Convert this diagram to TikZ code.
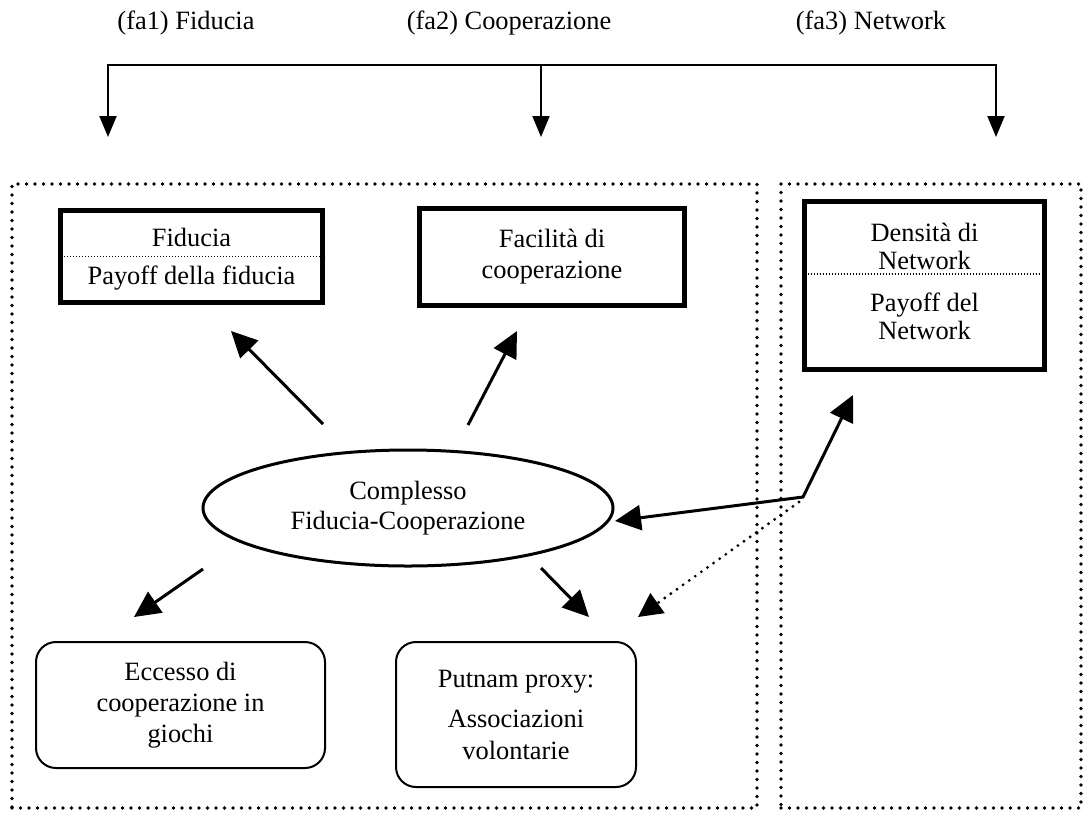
\documentclass[tikz,border=0pt]{standalone}
\usepackage{fontspec}
\setmainfont{Liberation Serif}
\usetikzlibrary{arrows.meta,shapes.geometric}

\begin{document}
\begin{tikzpicture}[
    x=1pt, y=-1pt,
    every node/.style={align=center, inner sep=0pt, font=\fontsize{26.4pt}{30pt}\selectfont},
    frame line/.style={draw, line width=3.6pt, line cap=round, dash pattern=on 0pt off 8.5pt},
    heavy box/.style={draw, line width=5pt},
    soft box/.style={draw, line width=2pt, rounded corners=20pt},
    sep line/.style={draw, line width=1.2pt, dash pattern=on 1pt off 2pt},
    top arrow/.style={draw, line width=2pt, -{Triangle[length=21pt, width=17pt]}},
    big arrow/.style={draw, line width=3pt, -{Triangle[length=26pt, width=25pt]}},
    dot arrow/.style={draw, line width=3.2pt, line cap=round, dash pattern=on 0pt off 7.5pt,
        -{Triangle[length=24pt, width=24pt]}},
    ]
\useasboundingbox (0,0) rectangle (1083,812);
\node (fa1) at (186,23) {(fa1) Fiducia};
\node (fa2) at (509,23) {(fa2) Cooperazione};
\node (fa3) at (871,23) {(fa3) Network};
\coordinate (b1) at (108,65);
\coordinate (b2) at (541,65);
\coordinate (b3) at (996,65);
\coordinate (t1) at (108,137);
\coordinate (t2) at (541,137);
\coordinate (t3) at (996,137);
\draw[top arrow, {Triangle[length=21pt, width=17pt]}-{Triangle[length=21pt, width=17pt]}] (t1) -- (b1) -- (b3) -- (t3);
\draw[top arrow] (b2) -- (t2);
\node[frame line, minimum width=745pt, minimum height=624pt] (fcFrame) at (384.5,496) {};
\node[frame line, minimum width=300pt, minimum height=624pt] (netFrame) at (931,496) {};
\node[heavy box, minimum width=262pt, minimum height=92pt] (fid) at (191.5,256.5) {};
\draw[sep line] (fid.west) -- (fid.east);
\node (fidA) at (191.5,237) {Fiducia};
\node (fidB) at (191.5,278) {Payoff della fiducia};
\node[heavy box, minimum width=265pt, minimum height=97pt,
    font=\fontsize{26.4pt}{31pt}\selectfont] (fac) at (552,257) {Facilità di\\cooperazione};
\node[heavy box, minimum width=240pt, minimum height=168pt] (net) at (924.5,285.5) {};
\coordinate (netSepL) at (804.5,274);
\coordinate (netSepR) at (1044.5,274);
\draw[sep line] (netSepL) -- (netSepR);
\node[font=\fontsize{26.4pt}{28pt}\selectfont] (netA) at (924.5,246) {Densità di\\Network};
\node[font=\fontsize{26.4pt}{28pt}\selectfont] (netB) at (924.5,316) {Payoff del\\Network};
\node[draw, ellipse, line width=3pt, minimum width=410pt, minimum height=116pt] (cfc) at (408,508) {Complesso\\Fiducia-Cooperazione};
\node[soft box, minimum width=289pt, minimum height=126pt,
    font=\fontsize{26.4pt}{31pt}\selectfont] (ecc) at (180.5,705) {Eccesso di\\cooperazione in\\giochi};
\node[soft box, minimum width=240pt, minimum height=145pt,
    font=\fontsize{26.4pt}{32pt}\selectfont] (put) at (516,714.5) {Putnam proxy:\\[8pt]Associazioni\\volontarie};
\coordinate (fidTail) at (323,424);
\coordinate (fidTip) at (231,331);
\coordinate (facTail) at (468,425);
\coordinate (facTip) at (517,331);
\coordinate (eccTail) at (203,569);
\coordinate (eccTip) at (134,617);
\coordinate (putTail) at (541,568);
\coordinate (putTip) at (589,617);
\coordinate (netKnee) at (803,497);
\coordinate (netTip) at (853,395);
\coordinate (cfcTip) at (615,521);
\coordinate (dotTail) at (799,502);
\coordinate (dotTip) at (638,617);
\draw[big arrow] (fidTail) -- (fidTip);
\draw[big arrow] (facTail) -- (facTip);
\draw[big arrow] (eccTail) -- (eccTip);
\draw[big arrow] (putTail) -- (putTip);
\draw[big arrow, {Triangle[length=26pt, width=25pt]}-{Triangle[length=26pt, width=25pt]}] (cfcTip) -- (netKnee) -- (netTip);
\draw[dot arrow] (dotTail) -- (dotTip);
\end{tikzpicture}
\end{document}
